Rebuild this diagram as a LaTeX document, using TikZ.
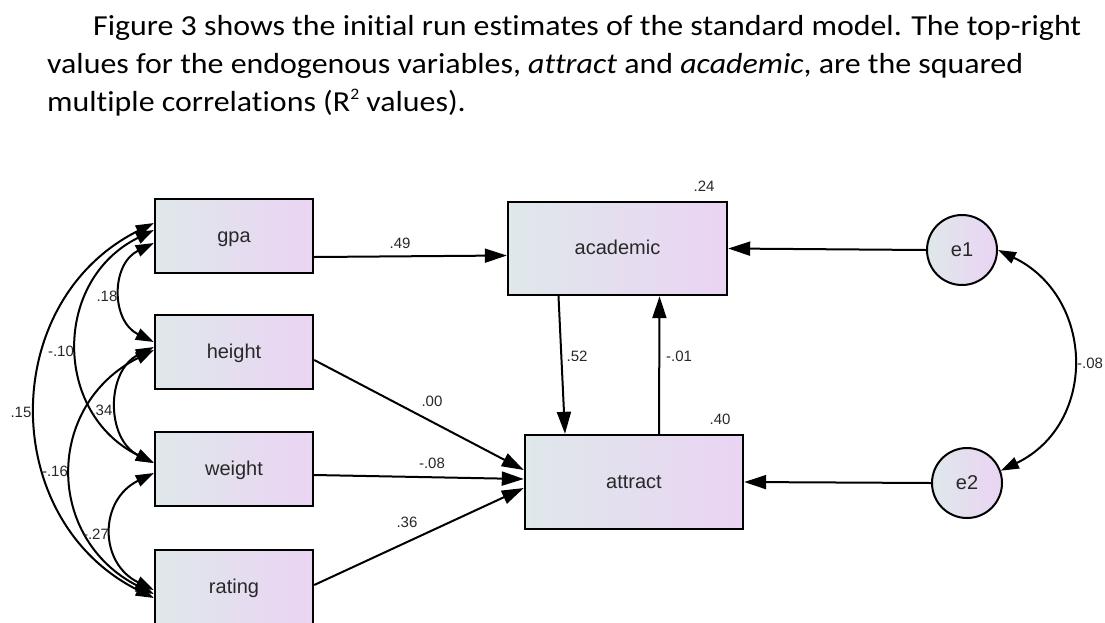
\documentclass[tikz,border=0pt]{standalone}
\usepackage{fontspec}
\setmainfont{Liberation Sans}
\newfontfamily\bodyfont[Ligatures=NoCommon]{Carlito}
\usetikzlibrary{arrows.meta}

\definecolor{boxleft}{RGB}{223,232,234}
\definecolor{boxright}{RGB}{234,212,243}
\definecolor{labelgrey}{RGB}{40,40,40}

\newcommand{\wideline}[1]{\scalebox{1.1}[1]{#1}}

\tikzset{
  varbox/.style={rectangle,draw=black,line width=2.4pt,left color=boxleft,right color=boxright,
    inner sep=0pt,text height=16pt,text depth=4pt,text=labelgrey,font=\fontsize{20}{24}\selectfont},
  errcirc/.style={circle,draw=black,line width=2pt,left color=boxleft,right color=boxright,
    minimum size=70pt,inner sep=0pt,text height=16pt,text depth=4pt,text=labelgrey,font=\fontsize{20}{24}\selectfont},
  reg/.style={line width=2pt,-{Triangle[length=22pt,width=14pt]}},
  cov/.style={line width=2pt,{Triangle[length=18pt,width=12pt]}-{Triangle[length=18pt,width=12pt]}},
  est/.style={inner sep=0pt,text=labelgrey,font=\fontsize{15}{18}\selectfont},
  caption/.style={anchor=base west,inner sep=0pt,font=\bodyfont\fontsize{29}{34}\selectfont},
}

\begin{document}
\begin{tikzpicture}[x=1pt,y=-1pt]
  \useasboundingbox (0,0) rectangle (1105,622);
  \clip (0,0) rectangle (1105,622);
  \fill[white] (0,0) rectangle (1105,622);

  % text above the figure
  \node[caption] (line1) at (93,35) {\wideline{Figure 3 shows the initial run estimates of the standard model. The top-right}};
  \node[caption] (line2) at (47,73) {\wideline{values for the endogenous variables, \textit{attract} and \textit{academic}, are the squared}};
  \node[caption] (line3) at (47,111) {\wideline{multiple correlations (R\raisebox{0.85ex}{\fontsize{16}{18}\selectfont 2} values).}};

  % observed variables
  \begin{scope}[every node/.style={varbox,minimum width=158pt,minimum height=74pt}]
    \node (gpa) at (234,236) {gpa};
    \node (height) at (234,352) {height};
    \node (weight) at (234,469) {weight};
    \node (rating) at (234,587) {rating};
  \end{scope}
  \node[varbox,minimum width=219pt,minimum height=93pt] (academic) at (617.5,248.5) {academic};
  \node[varbox,minimum width=218pt,minimum height=94pt] (attract) at (634,482) {attract};

  % error terms
  \node[errcirc] (e1) at (962,250) {e1};
  \node[errcirc] (e2) at (967,483) {e2};

  % regression paths
  \draw[reg] ([yshift=-21pt]gpa.east) -- ([yshift=-7pt]academic.west);
  \draw[reg] (e1.west) -- (academic.east);
  \draw[reg] ([xshift=-59pt]academic.south) -- ([xshift=-69pt]attract.north);
  \draw[reg] ([xshift=25pt]attract.north) -- ([xshift=42pt]academic.south);
  \draw[reg] ([yshift=-8pt]height.east) -- ([yshift=12pt]attract.west);
  \draw[reg] ([yshift=-6pt]weight.east) -- ([yshift=3pt]attract.west);
  \draw[reg] ([yshift=2pt]rating.east) -- ([yshift=-6pt]attract.west);
  \draw[reg] (e2.west) -- (attract.east);

  % covariances
  \draw[cov] ([yshift=-7pt]gpa.west) .. controls +(-43,21) and +(-43,-21) .. ([yshift=10pt]height.west);
  \draw[cov] ([yshift=6pt]gpa.west) .. controls +(-101,50) and +(-101,-50) .. ([yshift=6pt]weight.west);
  \draw[cov] ([yshift=13pt]gpa.west) .. controls +(-156,78) and +(-156,-78) .. ([yshift=-11pt]rating.west);
  \draw[cov] ([yshift=5pt]height.west) .. controls +(-48,24) and +(-48,-24) .. ([yshift=6pt]weight.west);
  \draw[cov] ([yshift=2pt]height.west) .. controls +(-109,55) and +(-109,-55) .. ([yshift=-7pt]rating.west);
  \draw[cov] ([yshift=-4pt]weight.west) .. controls +(-55,27) and +(-55,-27) .. ([yshift=-3pt]rating.west);
  \draw[cov] (e1.east) .. controls +(97,47) and +(97,-47) .. (e2.20);

  % estimates
  \node[est] (b49) at (400,243) {.49};
  \node[est] (b52) at (577,356) {.52};
  \node[est] (b01) at (679,356) {-.01};
  \node[est] (b00) at (432,401) {.00};
  \node[est] (b08) at (432,463) {-.08};
  \node[est] (b36) at (407,522) {.36};
  \node[est] (r24) at (704,186) {.24};
  \node[est] (r40) at (720,419) {.40};
  \node[est] (c18) at (107,296) {.18};
  \node[est] (c10) at (61,351) {-.10};
  \node[est] (c15) at (21,412) {.15};
  \node[est] (c34) at (102,410) {.34};
  \node[est] (c16) at (55,471) {-.16};
  \node[est] (c27) at (96,534) {-.27};
  \node[est] (ce) at (1090,363) {-.08};
\end{tikzpicture}
\end{document}
